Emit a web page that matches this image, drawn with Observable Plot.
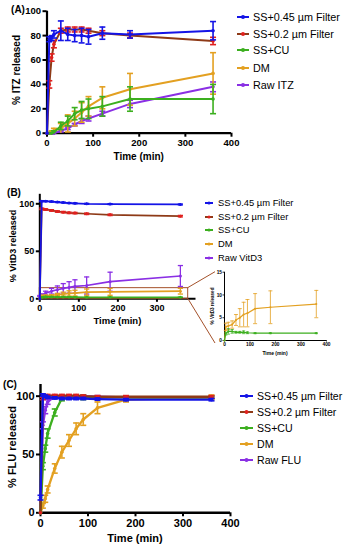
<!DOCTYPE html>
<html><head><meta charset="utf-8">
<script src="https://cdn.jsdelivr.net/npm/d3@7"></script>
<script src="https://cdn.jsdelivr.net/npm/@observablehq/plot@0.6"></script>
<style>
body{margin:0;background:#fff;font-family:"Liberation Sans",Arial,sans-serif;}
#root{position:relative;width:346px;height:550px;overflow:hidden;background:#fff;}
.panel{position:absolute;}
.lbl{position:absolute;white-space:nowrap;color:#000;line-height:1;}
.main svg [aria-label="x-axis"] line, .main svg [aria-label="y-axis"] line,
.main svg [aria-label="x-axis tick"] path, .main svg [aria-label="y-axis tick"] path{stroke-width:2px;}
.inset svg [aria-label="x-axis"] line, .inset svg [aria-label="y-axis"] line,
.inset svg [aria-label="x-axis tick"] path, .inset svg [aria-label="y-axis tick"] path{stroke-width:0.8px;}
</style></head>
<body><div id="root"></div>
<script>
// ---------- data ----------
const seriesA = ["SS+0.45 µm Filter", "SS+0.2 µm Filter", "SS+CU", "DM", "Raw ITZ"];
const seriesB = ["SS+0.45 µm Filter", "SS+0.2 µm Filter", "SS+CU", "DM", "Raw VitD3"];
const seriesC = ["SS+0.45 µm Filter", "SS+0.2 µm Filter", "SS+CU", "DM", "Raw FLU"];
const lineColors = ["#1414e6", "#8e3a17", "#3caf1f", "#e3a021", "#8a2fe4"];
const markColors = ["#1414e6", "#e0201e", "#3caf1f", "#e3a021", "#8a2fe4"];

const timeA = [0, 5, 10, 15, 30, 45, 60, 75, 90, 120, 180, 360];
const itzF045 = [0, 77, 78, 81, 84, 81, 80, 80, 79, 82, 81, 84];
const itzF045Err = [0, 2, 2, 3, 8, 5, 5, 6, 6, 5, 3, 7.5];
const itzF02 = [0, 40, 62, 73, 84, 85, 85, 85, 84, 82, 80, 75.6];
const itzF02Err = [0, 3, 3, 3, 2, 2, 2, 2, 2, 2, 2, 3];
const itzCU = [0, 0, 0, 1, 6, 10, 16, 19, 20, 22, 28, 28];
const itzCUErr = [0, 0, 0, 1, 3, 4, 5, 7, 8, 8, 10, 12];
const itzDM = [0, 0, 1, 2, 4, 8, 12, 17, 22, 29, 36, 49];
const itzDMErr = [0, 0, 1, 2, 4, 7, 6, 8, 8, 9, 13, 17];
const itzRaw = [0, 0, 0, 0, 2, 4, 7, 10, 12, 16, 24, 38];
const itzRawErr = [0, 0, 0, 0, 1, 1, 1, 2, 2, 2, 3, 4];

const timeB = [0, 5, 15, 30, 45, 60, 75, 90, 120, 180, 360];
const vdF045 = [0, 102.8, 102.7, 102.3, 101.8, 101.3, 100.8, 100.5, 100, 99.7, 99.3];
const vdF045Err = [0, 0.5, 0.5, 0.5, 0.5, 0.5, 0.5, 0.5, 0.5, 0.5, 0.5];
const vdF02 = [0, 94.7, 94, 93, 91.9, 91.2, 90.5, 90.2, 89.5, 88.4, 87];
const vdF02Err = [0, 0.8, 0.8, 0.8, 0.8, 0.8, 0.8, 0.8, 0.8, 0.8, 0.8];
const vdCU = [0, 1.5, 2, 2, 1.8, 1.8, 1.8, 1.7, 1.6, 1.6, 1.6];
const vdCUErr = [0, 0.3, 0.6, 0.4, 0.2, 0.2, 0.3, 0.2, 0.1, 0.1, 0.1];
const vdDM = [0, 3, 3.2, 3.5, 4.5, 5, 5.7, 6, 7, 7.3, 8];
const vdDMErr = [0, 0.8, 0.8, 0.8, 1.2, 2, 2.7, 3, 3.3, 3.6, 3];
const vdRaw = [3, 4, 6, 8, 9.5, 11, 12, 13, 14, 18, 24];
const vdRawErr = [0.5, 1, 2, 3, 4, 5, 6, 7, 9, 10, 11];

const timeC = [0, 5, 10, 15, 30, 45, 60, 75, 90, 120, 180, 360];
const fluF045 = [13, 101, 100, 99, 98.5, 98, 98, 98, 98, 97.5, 97, 97];
const fluF045Err = [2, 1, 1, 1, 1, 1, 1, 1, 1, 1, 1, 1];
const fluF02 = [0, 98, 100, 100.5, 100.5, 100.5, 100.5, 100.5, 100, 99.5, 99.5, 99.5];
const fluF02Err = [0, 1, 1, 1, 1, 1, 1, 1, 1, 1, 1, 1];
const fluCU = [0, 40, 55, 68, 86, 98, 99, 99, 99, 99, 99, 99];
const fluCUErr = [0, 3, 3, 4, 3, 2, 1, 1, 2, 1, 1, 1];
const fluDM = [0, 6, 12, 20, 38, 52, 62, 72, 80, 90, 97, 99];
const fluDMErr = [0, 2, 3, 3, 4, 5, 5, 5, 5, 5, 2, 2];
const fluRaw = [0, 75, 88, 95, 100, 100, 100, 100, 100, 99.5, 99, 99];
const fluRawErr = [0, 3, 3, 2, 1, 1, 1, 1, 1, 1, 1, 1];

const xTicksMain = [0, 100, 200, 300, 400];
const yTicksA = [0, 20, 40, 60, 80, 100];
const yTicksBC = [0, 50, 100];
const yTicksInset = [0, 5, 10, 15];

// ---------- helpers ----------
const FONT = "'Liberation Sans', Arial, sans-serif";
const root = document.getElementById("root");
const cap = {draw(ctx, size) { const r = Math.sqrt(size / Math.PI); ctx.moveTo(-r, 0); ctx.lineTo(r, 0); }};
const rows = (times, vals, errs) => times.map((t, i) => ({t, v: vals[i], e: errs[i]}));

function seriesMarks(data, i, o) {
  const eb = data.filter(d => d.e > 0);
  return [
    Plot.line(data, {x: "t", y: "v", stroke: lineColors[i], strokeWidth: o.lw}),
    Plot.ruleX(eb, {x: "t", y1: d => Math.max(0, d.v - d.e), y2: d => d.v + d.e, stroke: markColors[i], strokeWidth: o.ew}),
    Plot.dot(eb, {x: "t", y: d => d.v + d.e, symbol: cap, r: o.cap, fill: "none", stroke: markColors[i], strokeWidth: o.ew}),
    Plot.dot(eb.filter(d => d.v - d.e > 0), {x: "t", y: d => d.v - d.e, symbol: cap, r: o.cap, fill: "none", stroke: markColors[i], strokeWidth: o.ew}),
    Plot.dot(data, {x: "t", y: "v", r: o.r, fill: markColors[i], stroke: "none"})
  ];
}

function place(el, left, top, cls) {
  const d = document.createElement("div");
  d.className = "panel " + (cls || "");
  d.style.left = left + "px"; d.style.top = top + "px";
  d.appendChild(el); root.appendChild(d); return d;
}
function label(text, x, y, size, opts = {}) {
  const d = document.createElement("div");
  d.className = "lbl"; d.textContent = text;
  d.style.fontSize = size + "px";
  d.style.fontWeight = opts.bold ? "bold" : "normal";
  d.style.left = x + "px"; d.style.top = y + "px";
  d.style.transform = (opts.anchor === "start" ? "translate(0,-50%)" : "translate(-50%,-50%)") + (opts.rotate ? " rotate(-90deg)" : "");
  root.appendChild(d);
}
function legend(names, x0, x1, tx, ys, size, mr) {
  names.forEach((n, i) => {
    const svg = d3.create("svg").attr("width", x1 - x0 + 4).attr("height", 8)
      .style("position", "absolute").style("left", (x0 - 2) + "px").style("top", (ys[i] - 4) + "px");
    svg.append("line").attr("x1", 2).attr("x2", x1 - x0 + 2).attr("y1", 4).attr("y2", 4)
      .attr("stroke", lineColors[i]).attr("stroke-width", 2);
    svg.append("circle").attr("cx", (x1 - x0) / 2 + 2).attr("cy", 4).attr("r", mr).attr("fill", markColors[i]);
    root.appendChild(svg.node());
    label(n, tx, ys[i], size, {anchor: "start"});
  });
}
function mainPlot(cfg) {
  const marks = [
    Plot.ruleX([0], {stroke: "black", strokeWidth: cfg.axw}),
    Plot.ruleY([0], {stroke: "black", strokeWidth: cfg.axw})
  ];
  if (cfg.pre) marks.push(...cfg.pre);
  [4, 3, 2, 1, 0].forEach(i => { if (cfg.series[i]) marks.push(...seriesMarks(cfg.series[i], i, cfg.style)); });
  return Plot.plot({
    width: cfg.width, height: cfg.height,
    marginLeft: cfg.m[3], marginRight: cfg.m[1], marginTop: cfg.m[0], marginBottom: cfg.m[2],
    x: {domain: [0, 400], ticks: cfg.xticks, tickSize: cfg.ts, tickPadding: cfg.tp, label: null},
    y: {domain: cfg.ydomain, ticks: cfg.yticks, tickSize: cfg.ts, tickPadding: cfg.tp, label: null},
    style: {background: "transparent", overflow: "visible", fontFamily: FONT, fontSize: cfg.fs + "px", fontWeight: "bold", color: "#000"},
    marks
  });
}

// ---------- Panel A ----------
const A = mainPlot({
  width: 240, height: 170, m: [10.7, 9, 37.3, 46.5], ydomain: [0, 100],
  xticks: xTicksMain, yticks: yTicksA, ts: 4, tp: 2, fs: 9.5, axw: 2.2,
  style: {lw: 2, ew: 1.6, cap: 3, r: 1.8},
  series: [rows(timeA, itzF045, itzF045Err), rows(timeA, itzF02, itzF02Err), rows(timeA, itzCU, itzCUErr),
           rows(timeA, itzDM, itzDMErr), rows(timeA, itzRaw, itzRawErr)]
});
place(A, 0, 0, "main");
label("(A)", 18, 10, 10, {bold: true});
label("% ITZ released", 17, 70, 10, {bold: true, rotate: true});
label("Time (min)", 138.7, 157, 10, {bold: true});
legend(seriesA, 237, 249, 253, [16.7, 33.5, 50.3, 67.5, 84.5], 10.8, 2);

// ---------- Panel B ----------
const B = mainPlot({
  width: 205, height: 160, m: [18.8, 9.5, 36.7, 39.3], ydomain: [0, 110],
  xticks: [0, 100, 200, 300], yticks: yTicksBC, ts: 3.5, tp: 2, fs: 9, axw: 2,
  style: {lw: 1.7, ew: 1.3, cap: 2.6, r: 1.5},
  pre: [Plot.rect([{x1: 0, x2: 380, y1: 0, y2: 11.2}], {x1: "x1", x2: "x2", y1: "y1", y2: "y2", fill: "none", stroke: "#a4512a", strokeWidth: 1})],
  series: [rows(timeB, vdF045, vdF045Err), rows(timeB, vdF02, vdF02Err), rows(timeB, vdCU, vdCUErr),
           rows(timeB, vdDM, vdDMErr), rows(timeB, vdRaw, vdRawErr)]
});
place(B, 0, 175, "main");
label("(B)", 14, 193, 10, {bold: true});
label("% VitD3 released", 13.3, 246, 9, {bold: true, rotate: true});
label("Time (min)", 117.4, 321, 9.5, {bold: true});
legend(seriesB, 205, 213, 218, [203.3, 216.8, 230.3, 243.8, 257.5], 9.4, 1.6);

// ---------- Inset ----------
const I = Plot.plot({
  width: 140, height: 95, marginLeft: 29, marginRight: 9, marginTop: 9.7, marginBottom: 17,
  x: {domain: [0, 400], ticks: xTicksMain, tickSize: 1.5, tickPadding: 1, label: null},
  y: {domain: [0, 15], ticks: yTicksInset, tickSize: 1.5, tickPadding: 1, label: null},
  style: {background: "transparent", overflow: "visible", fontFamily: FONT, fontSize: "4.8px", fontWeight: "bold", color: "#000"},
  marks: [
    Plot.ruleX([0], {stroke: "black", strokeWidth: 1}),
    Plot.ruleY([0], {stroke: "black", strokeWidth: 1}),
    ...seriesMarks(rows(timeB, vdDM, vdDMErr), 3, {lw: 1.2, ew: 0.8, cap: 2, r: 1}),
    ...seriesMarks(rows(timeB, vdCU, vdCUErr), 2, {lw: 1.2, ew: 0.8, cap: 1.6, r: 1})
  ]
});
place(I, 195, 262, "inset");
label("% VitD3 released", 213, 306, 4.6, {bold: true, rotate: true});
label("Time (min)", 275, 352.5, 5, {bold: true});

// connectors from the zoom box in B to the inset, derived from the scales
(function () {
  const bx = B.scale("x"), by = B.scale("y"), ix = I.scale("x"), iy = I.scale("y");
  const BX = d3.scaleLinear(bx.domain, bx.range), BY = d3.scaleLinear(by.domain, by.range);
  const IX = d3.scaleLinear(ix.domain, ix.range), IY = d3.scaleLinear(iy.domain, iy.range);
  const svg = d3.create("svg").attr("width", 346).attr("height", 550)
    .style("position", "absolute").style("left", 0).style("top", 0).style("pointer-events", "none");
  const x0 = BX(380), yTop = BY(11.2) + 175, yBot = BY(0) + 175;
  const xi = IX(0) - 9 + 195;
  svg.append("line").attr("x1", x0).attr("y1", yTop).attr("x2", xi).attr("y2", IY(15) + 262)
    .attr("stroke", "#a4512a").attr("stroke-width", 1);
  svg.append("line").attr("x1", x0).attr("y1", yBot).attr("x2", xi).attr("y2", IY(0) + 3 + 262)
    .attr("stroke", "#a4512a").attr("stroke-width", 1);
  root.appendChild(svg.node());
})();

// ---------- Panel C ----------
const C = mainPlot({
  width: 240, height: 180, m: [14, 10, 37.7, 40], ydomain: [0, 110],
  xticks: xTicksMain, yticks: yTicksBC, ts: 4, tp: 2, fs: 11, axw: 2.4,
  style: {lw: 2.3, ew: 1.6, cap: 3, r: 1.8},
  series: [rows(timeC, fluF045, fluF045Err), rows(timeC, fluF02, fluF02Err), rows(timeC, fluCU, fluCUErr),
           rows(timeC, fluDM, fluDMErr), rows(timeC, fluRaw, fluRawErr)]
});
place(C, 0, 370, "main");
label("(C)", 10, 385, 10, {bold: true});
label("% FLU released", 12, 447, 11, {bold: true, rotate: true});
label("Time (min)", 135, 537.5, 11, {bold: true});
legend(seriesC, 240, 253, 257, [395.5, 411.7, 428, 444.2, 460.4], 10.6, 2);
</script>
</body></html>
